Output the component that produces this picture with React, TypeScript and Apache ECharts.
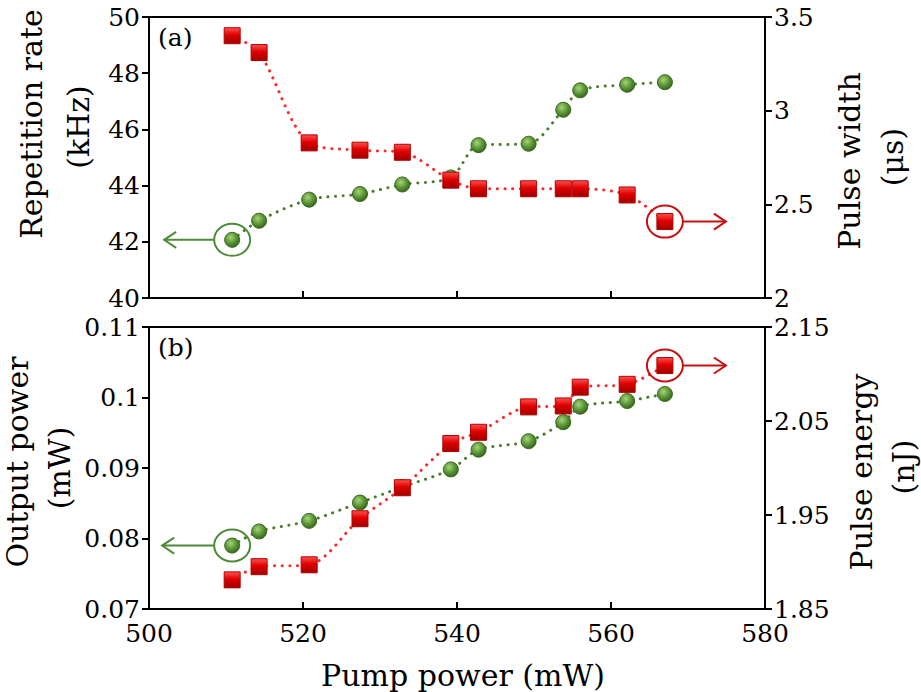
import React, { useEffect, useRef } from "react";
import * as echarts from "echarts";

const pumpPower = [510.8, 514.3, 520.8, 527.4, 532.9, 539.2, 542.8, 549.3, 553.8, 556.0, 562.1, 567.0];
const repetitionRate = [42.07, 42.75, 43.5, 43.7, 44.04, 44.29, 45.44, 45.49, 46.7, 47.39, 47.59, 47.68];
const pulseWidth = [3.4, 3.31, 2.828, 2.789, 2.778, 2.629, 2.583, 2.583, 2.583, 2.583, 2.55, 2.408];
const outputPower = [0.079, 0.081, 0.0825, 0.0851, 0.0873, 0.0898, 0.0926, 0.0938, 0.0965, 0.0987, 0.0995, 0.1005];
const pulseEnergy = [1.881, 1.895, 1.897, 1.946, 1.979, 2.026, 2.038, 2.065, 2.066, 2.086, 2.089, 2.109];

const xTicks = { min: 500, max: 580, interval: 20 };
const repTicks = { min: 40, max: 50, interval: 2 };
const widthTicks = { min: 2, max: 3.5, interval: 0.5 };
const powerTicks = { min: 0.07, max: 0.11, interval: 0.01 };
const energyTicks = { min: 1.85, max: 2.15, interval: 0.1 };

const FONT = "DejaVu Serif";
const GREEN_LINE = "#4a7d2a";
const RED_LINE = "#ff2626";
const GREEN_ANN = "#4f8a38";
const RED_ANN = "#c81010";

const pairs = (xs: number[], ys: number[]) => xs.map((x, i) => [x, ys[i]]);

const greenFill = new echarts.graphic.RadialGradient(0.4, 0.35, 0.7, [
  { offset: 0, color: "#a6d47a" },
  { offset: 0.5, color: "#5f9a3a" },
  { offset: 1, color: "#335f1a" },
]);
const redFill = new echarts.graphic.LinearGradient(0, 0, 0, 1, [
  { offset: 0, color: "#ff5050" },
  { offset: 0.45, color: "#e00000" },
  { offset: 1, color: "#a00000" },
]);

const axisLabelStyle = { fontFamily: FONT, fontSize: 25, color: "#000" };
const axisLineStyle = { show: true, lineStyle: { color: "#000", width: 2 } };

function yAxis(gridIndex: number, position: string, t: any, fmt?: (v: number) => string) {
  return {
    type: "value",
    gridIndex,
    position,
    min: t.min,
    max: t.max,
    interval: t.interval,
    axisLine: axisLineStyle,
    axisTick: { show: true, inside: false, length: 7, lineStyle: { color: "#000", width: 2 } },
    axisLabel: { ...axisLabelStyle, margin: 9, formatter: fmt },
    splitLine: { show: false },
  };
}

function xAxis(gridIndex: number, showLabels: boolean) {
  return {
    type: "value",
    gridIndex,
    min: xTicks.min,
    max: xTicks.max,
    interval: xTicks.interval,
    axisLine: axisLineStyle,
    axisTick: { show: true, inside: true, length: 7, lineStyle: { color: "#000", width: 2 } },
    axisLabel: { ...axisLabelStyle, show: showLabels, margin: 12 },
    splitLine: { show: false },
  };
}

function series(data: number[][], xi: number, yi: number, kind: "green" | "red") {
  const green = kind === "green";
  return {
    type: "line",
    xAxisIndex: xi,
    yAxisIndex: yi,
    data,
    smooth: 0.3,
    symbol: green ? "circle" : "rect",
    symbolSize: green ? 15 : 16,
    showAllSymbol: true,
    z: green ? 2 : 3,
    lineStyle: {
      color: green ? GREEN_LINE : RED_LINE,
      width: 3,
      type: [0.1, 7.5],
      cap: "round",
    },
    itemStyle: {
      color: green ? greenFill : redFill,
      borderColor: green ? "#3a6a20" : "#b00000",
      borderWidth: 1,
      opacity: 1,
    },
  };
}

function arrow(x1: number, y: number, x2: number, color: string) {
  const dir = x2 > x1 ? 1 : -1;
  return [
    { type: "line", shape: { x1, y1: y, x2, y2: y }, style: { stroke: color, lineWidth: 2 }, z: 10 },
    {
      type: "polyline",
      shape: { points: [[x2 - dir * 12, y - 8], [x2, y], [x2 - dir * 12, y + 8]] },
      style: { stroke: color, lineWidth: 2, fill: "none" },
      z: 10,
    },
  ];
}

function vtext(text: string, x: number, y: number) {
  return {
    type: "text",
    x,
    y,
    rotation: Math.PI / 2,
    style: { text, fontFamily: FONT, fontSize: 30, fill: "#000", align: "center", verticalAlign: "middle" },
    z: 10,
  };
}

export default function App() {
  const ref = useRef<HTMLDivElement>(null);
  useEffect(() => {
    document.body.style.margin = "0";
    const chart = echarts.init(ref.current!, undefined, { renderer: "svg" });
    chart.setOption({
      animation: false,
      backgroundColor: "#fff",
      grid: [
        { left: 149, top: 17, width: 616, height: 281, show: true, borderColor: "#000", borderWidth: 2, backgroundColor: "transparent" },
        { left: 149, top: 327, width: 616, height: 282, show: true, borderColor: "#000", borderWidth: 2, backgroundColor: "transparent" },
      ],
      xAxis: [xAxis(0, false), xAxis(1, true)],
      yAxis: [
        yAxis(0, "left", repTicks),
        yAxis(0, "right", widthTicks),
        yAxis(1, "left", powerTicks, (v: number) => String(+v.toFixed(2))),
        yAxis(1, "right", energyTicks, (v: number) => v.toFixed(2)),
      ],
      series: [
        series(pairs(pumpPower, repetitionRate), 0, 0, "green"),
        series(pairs(pumpPower, pulseWidth), 0, 1, "red"),
        series(pairs(pumpPower, outputPower), 1, 2, "green"),
        series(pairs(pumpPower, pulseEnergy), 1, 3, "red"),
      ],
    });

    const n = pumpPower.length - 1;
    const g0 = chart.convertToPixel({ xAxisIndex: 0, yAxisIndex: 0 }, [pumpPower[0], repetitionRate[0]]) as number[];
    const r0 = chart.convertToPixel({ xAxisIndex: 0, yAxisIndex: 1 }, [pumpPower[n], pulseWidth[n]]) as number[];
    const g1 = chart.convertToPixel({ xAxisIndex: 1, yAxisIndex: 2 }, [pumpPower[0], outputPower[0]]) as number[];
    const r1 = chart.convertToPixel({ xAxisIndex: 1, yAxisIndex: 3 }, [pumpPower[n], pulseEnergy[n]]) as number[];
    const rx = 18, ry = 16;
    const ring = (p: number[], color: string) => ({
      type: "ellipse",
      shape: { cx: p[0], cy: p[1], rx, ry },
      style: { stroke: color, lineWidth: 2, fill: "none" },
      z: 10,
    });

    chart.setOption({
      graphic: [
        ring(g0, GREEN_ANN),
        ...arrow(g0[0] - rx, g0[1], g0[0] - rx - 50, GREEN_ANN),
        ring(r0, RED_ANN),
        ...arrow(r0[0] + rx, r0[1], r0[0] + rx + 43, RED_ANN),
        ring(g1, GREEN_ANN),
        ...arrow(g1[0] - rx, g1[1], g1[0] - rx - 52, GREEN_ANN),
        ring(r1, RED_ANN),
        ...arrow(r1[0] + rx, r1[1], r1[0] + rx + 43, RED_ANN),
        { type: "text", x: 158, y: 37, style: { text: "(a)", fontFamily: FONT, fontSize: 25, fill: "#000", verticalAlign: "middle" }, z: 10 },
        { type: "text", x: 158, y: 347, style: { text: "(b)", fontFamily: FONT, fontSize: 25, fill: "#000", verticalAlign: "middle" }, z: 10 },
        vtext("Repetition rate", 31, 124),
        vtext("(kHz)", 78, 127),
        vtext("Pulse width", 849, 161),
        vtext("(\u03bcs)", 892, 157),
        vtext("Output power", 17, 462),
        vtext("(mW)", 59, 468),
        vtext("Pulse energy", 861, 472),
        vtext("(nJ)", 903, 467),
        {
          type: "text",
          x: 463,
          y: 675,
          style: { text: "Pump power (mW)", fontFamily: FONT, fontSize: 30, fill: "#000", align: "center", verticalAlign: "middle" },
          z: 10,
        },
      ],
    });
    return () => chart.dispose();
  }, []);
  return <div ref={ref} style={{ width: 921, height: 692 }} />;
}
